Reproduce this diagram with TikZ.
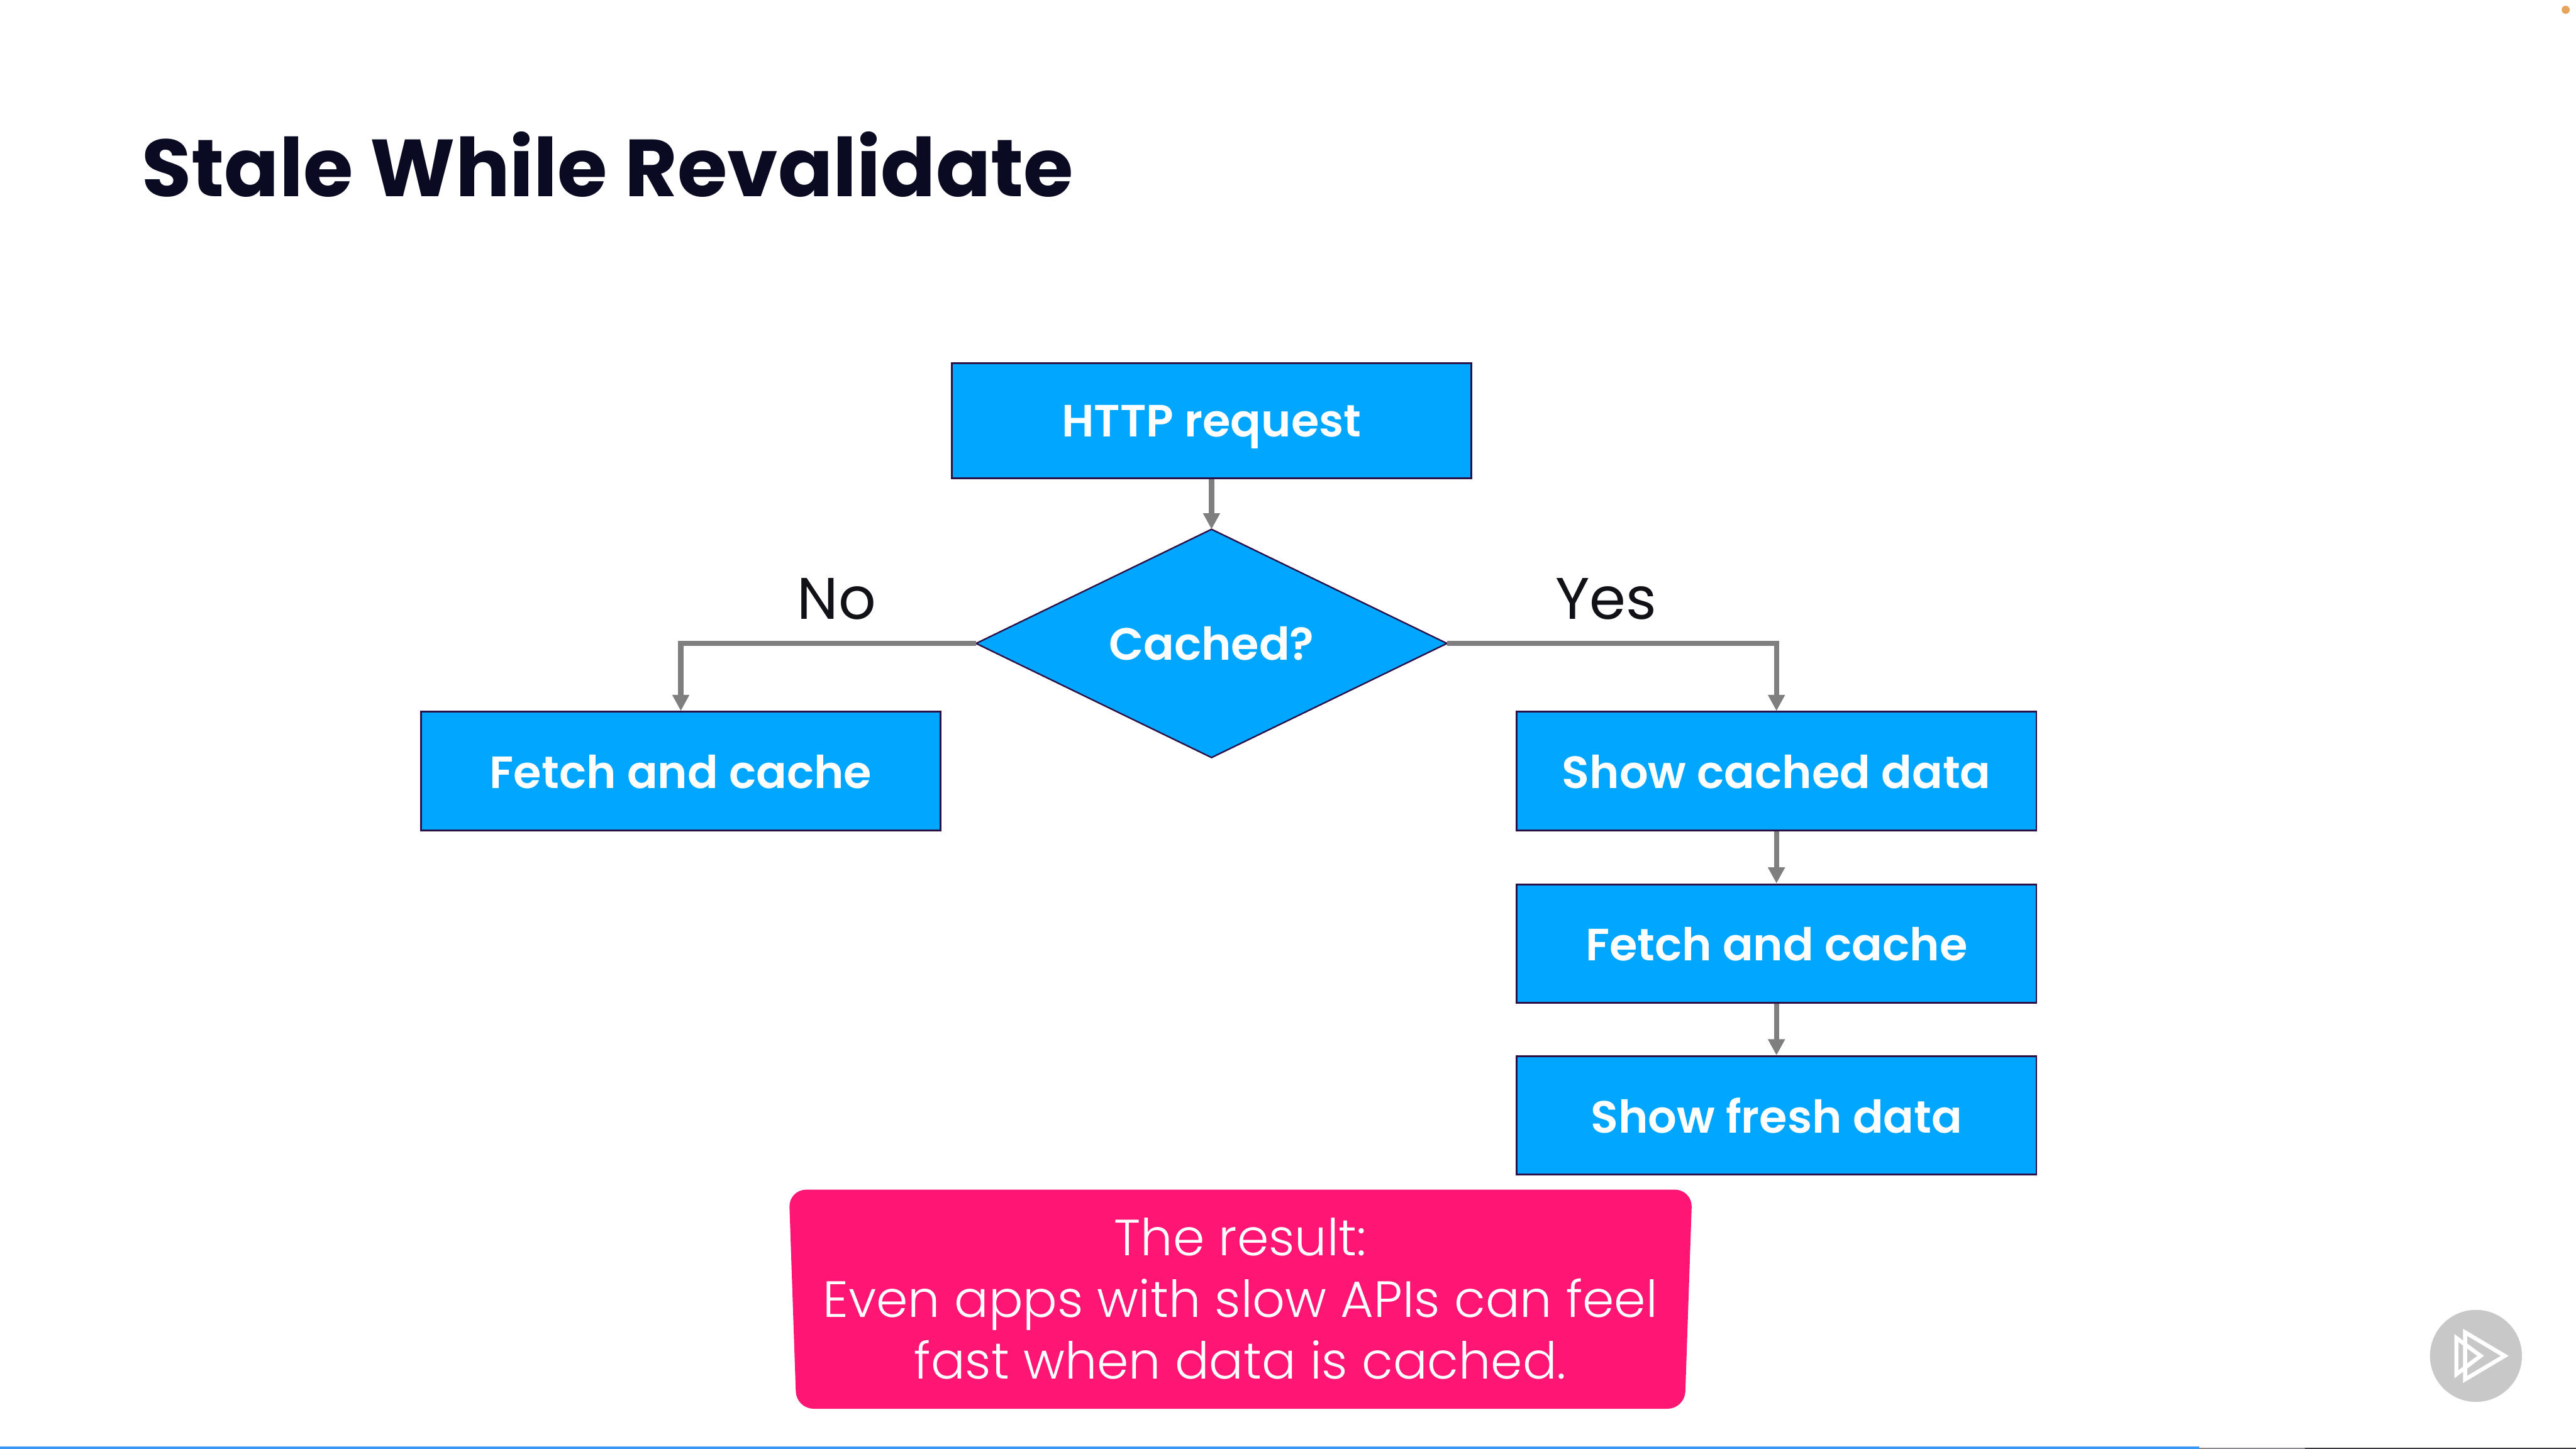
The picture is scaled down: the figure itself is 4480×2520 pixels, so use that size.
\documentclass[tikz,border=0pt]{standalone}
\usepackage{fontspec}
\setmainfont{Poppins}
\newfontfamily\boxfont[UprightFont=* SemiBold]{Poppins}
\newfontfamily\lightfont[UprightFont=* Light]{Poppins}
\usetikzlibrary{shapes.geometric,arrows.meta}
\definecolor{boxblue}{HTML}{00A6FF}
\definecolor{boxedge}{HTML}{2C1048}
\definecolor{linegray}{HTML}{7F7F7F}
\definecolor{pinkbox}{HTML}{FF1675}
\definecolor{titleink}{HTML}{0A0A23}
\definecolor{labelink}{HTML}{111118}
\definecolor{playgray}{HTML}{C8C8C8}
\definecolor{barblue}{HTML}{3A96F5}
\definecolor{bargray}{HTML}{8A8A90}
\definecolor{bardark}{HTML}{3A3A44}
\definecolor{dotorange}{HTML}{E9A45C}
\tikzset{
  flowbox/.style={rectangle,draw=boxedge,line width=1.6pt,fill=boxblue,text=white,
    minimum width=452pt,minimum height=103pt,inner sep=0pt,text height=30pt,text depth=0pt,
    font=\boxfont\fontsize{39.3}{39.3}\selectfont},
  flowdiamond/.style={diamond,shape aspect=2.06,draw=boxedge,line width=1.3pt,fill=boxblue,text=white,
    minimum width=409.5pt,minimum height=198.5pt,inner sep=0pt,outer sep=0pt,text height=29pt,text depth=0pt,
    font=\boxfont\fontsize{39.3}{39.3}\selectfont},
  flowarrow/.style={draw=linegray,line width=4.6pt,
    -{Triangle[width=14pt,length=14pt]}},
  branchlabel/.style={anchor=base,inner sep=0pt,text=labelink,font=\fontsize{51}{51}\selectfont},
  pinktext/.style={anchor=base,inner sep=0pt,text=white,font=\lightfont\fontsize{44.3}{44.3}\selectfont},
}
\begin{document}
\begin{tikzpicture}[x=0.5pt,y=-0.5pt]
\useasboundingbox (0,0) rectangle (4480,2520);
\fill[white] (0,0) rectangle (4480,2520);
\fill[dotorange] (4462,17) circle (7);
\node[anchor=base west,inner sep=0pt,text=titleink,font=\bfseries\fontsize{70.4}{70.4}\selectfont] (title) at (246,342) {Stale While Revalidate};

\node[flowbox,minimum height=100pt,text height=27.5pt] (http) at (2107,732) {HTTP request};
\node[flowdiamond] (cached) at (2107,1119) {Cached?};
\node[flowbox] (fetchl) at (1184,1341) {Fetch and cache};
\node[flowbox] (showc) at (3089.5,1341) {Show cached data};
\node[flowbox] (fetchr) at (3089.5,1641) {Fetch and cache};
\node[flowbox] (showf) at (3089.5,1940) {Show fresh data};

\draw[flowarrow] (http.south) -- (cached.north);
\draw[flowarrow] (cached.west) -| (fetchl.north);
\draw[flowarrow] (cached.east) -| (showc.north);
\draw[flowarrow] (showc.south) -- (fetchr.north);
\draw[flowarrow] (fetchr.south) -- (showf.north);

\node[branchlabel] (no) at (1455,1077) {No};
\node[branchlabel] (yes) at (2793,1077) {Yes};

\fill[pinkbox,rounded corners=15pt] (1372,2069) -- (2943,2069) -- (2930,2450) -- (1385,2450) -- cycle;
\node[pinktext] (r1) at (2157,2184) {The result:};
\node[pinktext] (r2) at (2157,2291) {Even apps with slow APIs can feel};
\node[pinktext] (r3) at (2157,2398) {fast when data is cached.};

\fill[playgray] (4306,2358) circle (80);
\draw[white,line width=3.5pt,miter limit=10] (4287,2317) -- (4356,2358) -- (4287,2399) -- cycle;
\draw[white,line width=3.5pt,miter limit=10] (4272,2327) -- (4314,2358) -- (4272,2390) -- cycle;

\fill[barblue] (0,2516) rectangle (3825,2520);
\fill[bargray] (3825,2518) rectangle (4008,2520);
\fill[bardark] (4008,2518) rectangle (4480,2520);
\end{tikzpicture}
\end{document}
